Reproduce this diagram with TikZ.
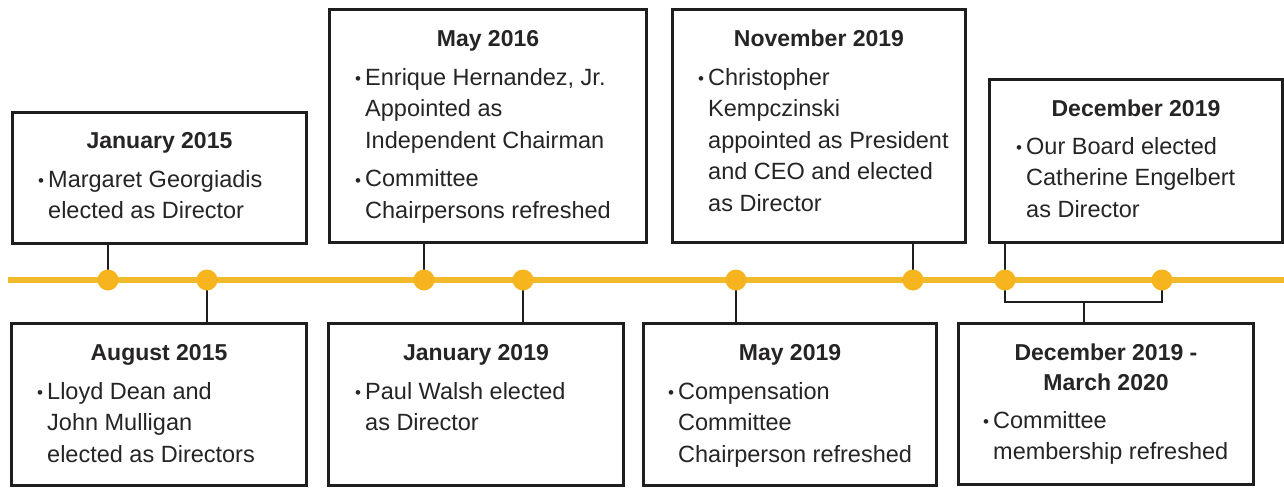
\documentclass[tikz,border=0pt]{standalone}
\usepackage{fontspec}
\setmainfont{Liberation Sans}
\definecolor{tlyellow}{RGB}{241,186,42}
\definecolor{dotyellow}{RGB}{246,180,30}
\definecolor{ink}{RGB}{30,30,30}
\definecolor{txt}{RGB}{38,36,37}
\newcommand{\bl}{\makebox[10pt][l]{\raisebox{0.5pt}{\fontsize{17}{17}\selectfont\textbullet}}}
\newcommand{\itm}[1]{\par\hangindent=10pt\hangafter=1\noindent\bl#1}
\newcommand{\itemgap}{\par\vspace{7pt}}
\tikzset{
  evbox/.style={draw=ink, line width=3pt, fill=white, inner sep=0pt, anchor=north west},
  evtitle/.style={anchor=base, inner sep=0pt, text=txt, font=\fontsize{23}{30}\selectfont\bfseries},
  evbody/.style={anchor=base west, inner sep=0pt, text=txt},
  conn/.style={draw=ink, line width=2.6pt},
  tline/.style={draw=tlyellow, line width=6pt},
  evdot/.style={circle, fill=dotyellow, minimum size=21pt, inner sep=0pt}
}
\newcommand{\bodytext}[1]{\parbox[t]{280pt}{\raggedright\let\\\newline\fontsize{23.5}{31.5}\selectfont #1}}
\begin{document}
\begin{tikzpicture}[x=1pt,y=-1pt]
\useasboundingbox (0,0) rectangle (1284,487);
\fill[white] (0,0) rectangle (1284,487);

% timeline
\coordinate (tl0) at (8,280);
\coordinate (tl1) at (1284,280);
\draw[tline] (tl0) -- (tl1);

% dot positions
\coordinate (p1) at (108,280);
\coordinate (p2) at (207,280);
\coordinate (p3) at (424,280);
\coordinate (p4) at (523,280);
\coordinate (p5) at (736,280);
\coordinate (p6) at (913,280);
\coordinate (p7) at (1005,280);
\coordinate (p8) at (1162,280);
\coordinate (br) at (1084,302);

% boxes
\node[evbox, minimum width=294pt, minimum height=131pt] (b1) at (11,111) {};
\node[evbox, minimum width=295pt, minimum height=162pt] (b2) at (10,322) {};
\node[evbox, minimum width=317pt, minimum height=233pt] (b3) at (328,8) {};
\node[evbox, minimum width=295pt, minimum height=162pt] (b4) at (327,322) {};
\node[evbox, minimum width=293pt, minimum height=162pt] (b5) at (642,322) {};
\node[evbox, minimum width=293pt, minimum height=233pt] (b6) at (671,8) {};
\node[evbox, minimum width=293pt, minimum height=163pt] (b7) at (988,78) {};
\node[evbox, minimum width=295pt, minimum height=161pt] (b8) at (957,322) {};

% connectors
\draw[conn] (b1.south -| p1) -- (p1);
\draw[conn] (p2) -- (b2.north -| p2);
\draw[conn] (b3.south -| p3) -- (p3);
\draw[conn] (p4) -- (b4.north -| p4);
\draw[conn] (p5) -- (b5.north -| p5);
\draw[conn] (b6.south -| p6) -- (p6);
\draw[conn] (b7.south -| p7) -- (p7);
\draw[conn] (p7) |- (br) -| (p8);
\draw[conn] (br) -- (b8.north -| br);

% dots
\foreach \i in {1,...,8} { \node[evdot] (d\i) at (p\i) {}; }

% titles
\node[evtitle] (t1) at ([yshift=-37pt]b1.north) {January 2015};
\node[evtitle] (t2) at ([yshift=-38pt]b2.north) {August 2015};
\node[evtitle] (t3) at ([yshift=-39pt]b3.north) {May 2016};
\node[evtitle] (t4) at ([yshift=-38pt]b4.north) {January 2019};
\node[evtitle] (t5) at ([yshift=-38pt]b5.north) {May 2019};
\node[evtitle] (t6) at ([yshift=-39pt]b6.north) {November 2019};
\node[evtitle] (t7) at ([yshift=-38pt]b7.north) {December 2019};
\node[evtitle] (t8) at ([yshift=-38pt]b8.north) {\parbox[t]{285pt}{\centering December 2019 -\\March 2020}};

% bodies
\node[evbody] (x1) at ([xshift=27pt,yshift=-76pt]b1.north west)
  {\bodytext{\itm{Margaret Georgiadis\\elected as Director}}};
\node[evbody] (x2) at ([xshift=27pt,yshift=-77pt]b2.north west)
  {\bodytext{\itm{Lloyd Dean and\\John Mulligan\\elected as Directors}}};
\node[evbody] (x3) at ([xshift=27pt,yshift=-77pt]b3.north west)
  {\bodytext{\itm{Enrique Hernandez, Jr.\\Appointed as\\Independent Chairman}\itemgap\itm{Committee\\Chairpersons refreshed}}};
\node[evbody] (x4) at ([xshift=28pt,yshift=-77pt]b4.north west)
  {\bodytext{\itm{Paul Walsh elected\\as Director}}};
\node[evbody] (x5) at ([xshift=26pt,yshift=-77pt]b5.north west)
  {\bodytext{\itm{Compensation\\Committee\\Chairperson refreshed}}};
\node[evbody] (x6) at ([xshift=27pt,yshift=-77pt]b6.north west)
  {\bodytext{\itm{Christopher\\Kempczinski\\appointed as President\\and CEO and elected\\as Director}}};
\node[evbody] (x7) at ([xshift=28pt,yshift=-76pt]b7.north west)
  {\bodytext{\itm{Our Board elected\\Catherine Engelbert\\as Director}}};
\node[evbody] (x8) at ([xshift=26pt,yshift=-106pt]b8.north west)
  {\bodytext{\itm{Committee\\membership refreshed}}};
\end{tikzpicture}
\end{document}
